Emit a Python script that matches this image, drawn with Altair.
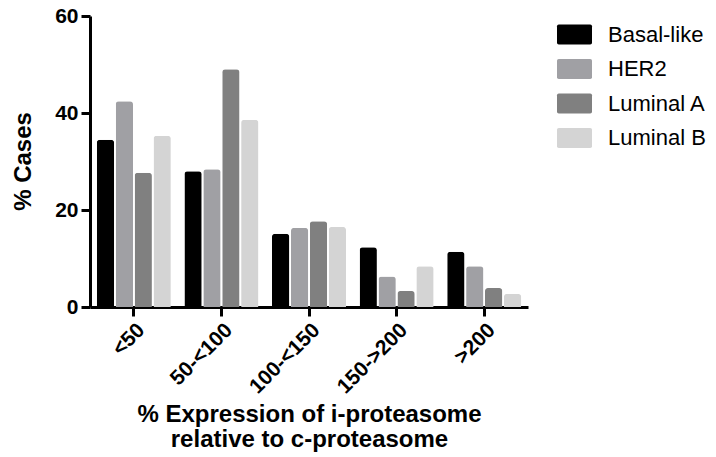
import altair as alt
import pandas as pd

categories = ["<50", "50-<100", "100-<150", "150->200", ">200"]
subtypes = ["Basal-like", "HER2", "Luminal A", "Luminal B"]
basal = [34.5, 28.0, 15.1, 12.3, 11.4]
her2 = [42.4, 28.4, 16.3, 6.3, 8.4]
luma = [27.7, 49.0, 17.7, 3.3, 3.9]
lumb = [35.3, 38.6, 16.5, 8.4, 2.7]
colors = ["#000000", "#a0a0a4", "#808080", "#d4d4d4"]

rows = []
for s, vals in zip(subtypes, [basal, her2, luma, lumb]):
    for c, v in zip(categories, vals):
        rows.append({"cat": c, "subtype": s, "value": v})
df = pd.DataFrame(rows)

FONT = "Liberation Sans"
legend_shape = ("M-0.9,-0.571L0.9,-0.571Q1,-0.571 1,-0.471L1,0.471Q1,0.571 0.9,0.571"
                "L-0.9,0.571Q-1,0.571 -1,0.471L-1,-0.471Q-1,-0.571 -0.9,-0.571Z")

chart = alt.Chart(df).mark_bar(cornerRadiusTopLeft=3, cornerRadiusTopRight=3).encode(
    x=alt.X("cat:N", sort=categories,
            scale=alt.Scale(paddingInner=0.155, paddingOuter=0.0775),
            axis=alt.Axis(title=["% Expression of i-proteasome", "relative to c-proteasome"],
                          labelAngle=-45, labelFont=FONT, labelFontSize=21,
                          labelFontWeight="bold", labelColor="black",
                          titleFont=FONT, titleFontSize=24, titleFontWeight="bold",
                          titleColor="black", titleLineHeight=25,
                          titleBaseline="top", titleY=95,
                          domainColor="black", domainWidth=3, tickColor="black",
                          tickWidth=3, tickSize=9, labelPadding=3)),
    xOffset=alt.XOffset("subtype:N", sort=subtypes, scale=alt.Scale(paddingInner=0.085)),
    y=alt.Y("value:Q", scale=alt.Scale(domain=[0, 60], nice=False),
            axis=alt.Axis(title="% Cases", values=[0, 20, 40, 60], grid=False,
                          labelFont=FONT, labelFontSize=21, labelFontWeight="bold",
                          labelColor="black", titleFont=FONT, titleFontSize=24,
                          titleFontWeight="bold", titleColor="black",
                          titleX=-67, titleY=145, titleAlign="center",
                          titleBaseline="middle", titleAngle=270,
                          domainColor="black", domainWidth=3, tickColor="black",
                          tickWidth=3, tickSize=9, labelPadding=3)),
    color=alt.Color("subtype:N", sort=subtypes,
                    scale=alt.Scale(domain=subtypes, range=colors),
                    legend=alt.Legend(title=None, orient="none", legendX=467, legendY=1,
                                      symbolType=legend_shape, symbolSize=1225,
                                      symbolStrokeWidth=0, symbolOpacity=1,
                                      labelFont=FONT, labelFontSize=22,
                                      labelColor="black", labelOffset=16,
                                      rowPadding=5.5)),
).properties(
    width=438, height=291,
    autosize=alt.AutoSizeParams(type="none"),
    padding={"left": 90, "top": 16, "right": 188, "bottom": 150},
).configure_view(stroke=None)

chart.save("out.html", embed_options={"renderer": "svg", "actions": False})
